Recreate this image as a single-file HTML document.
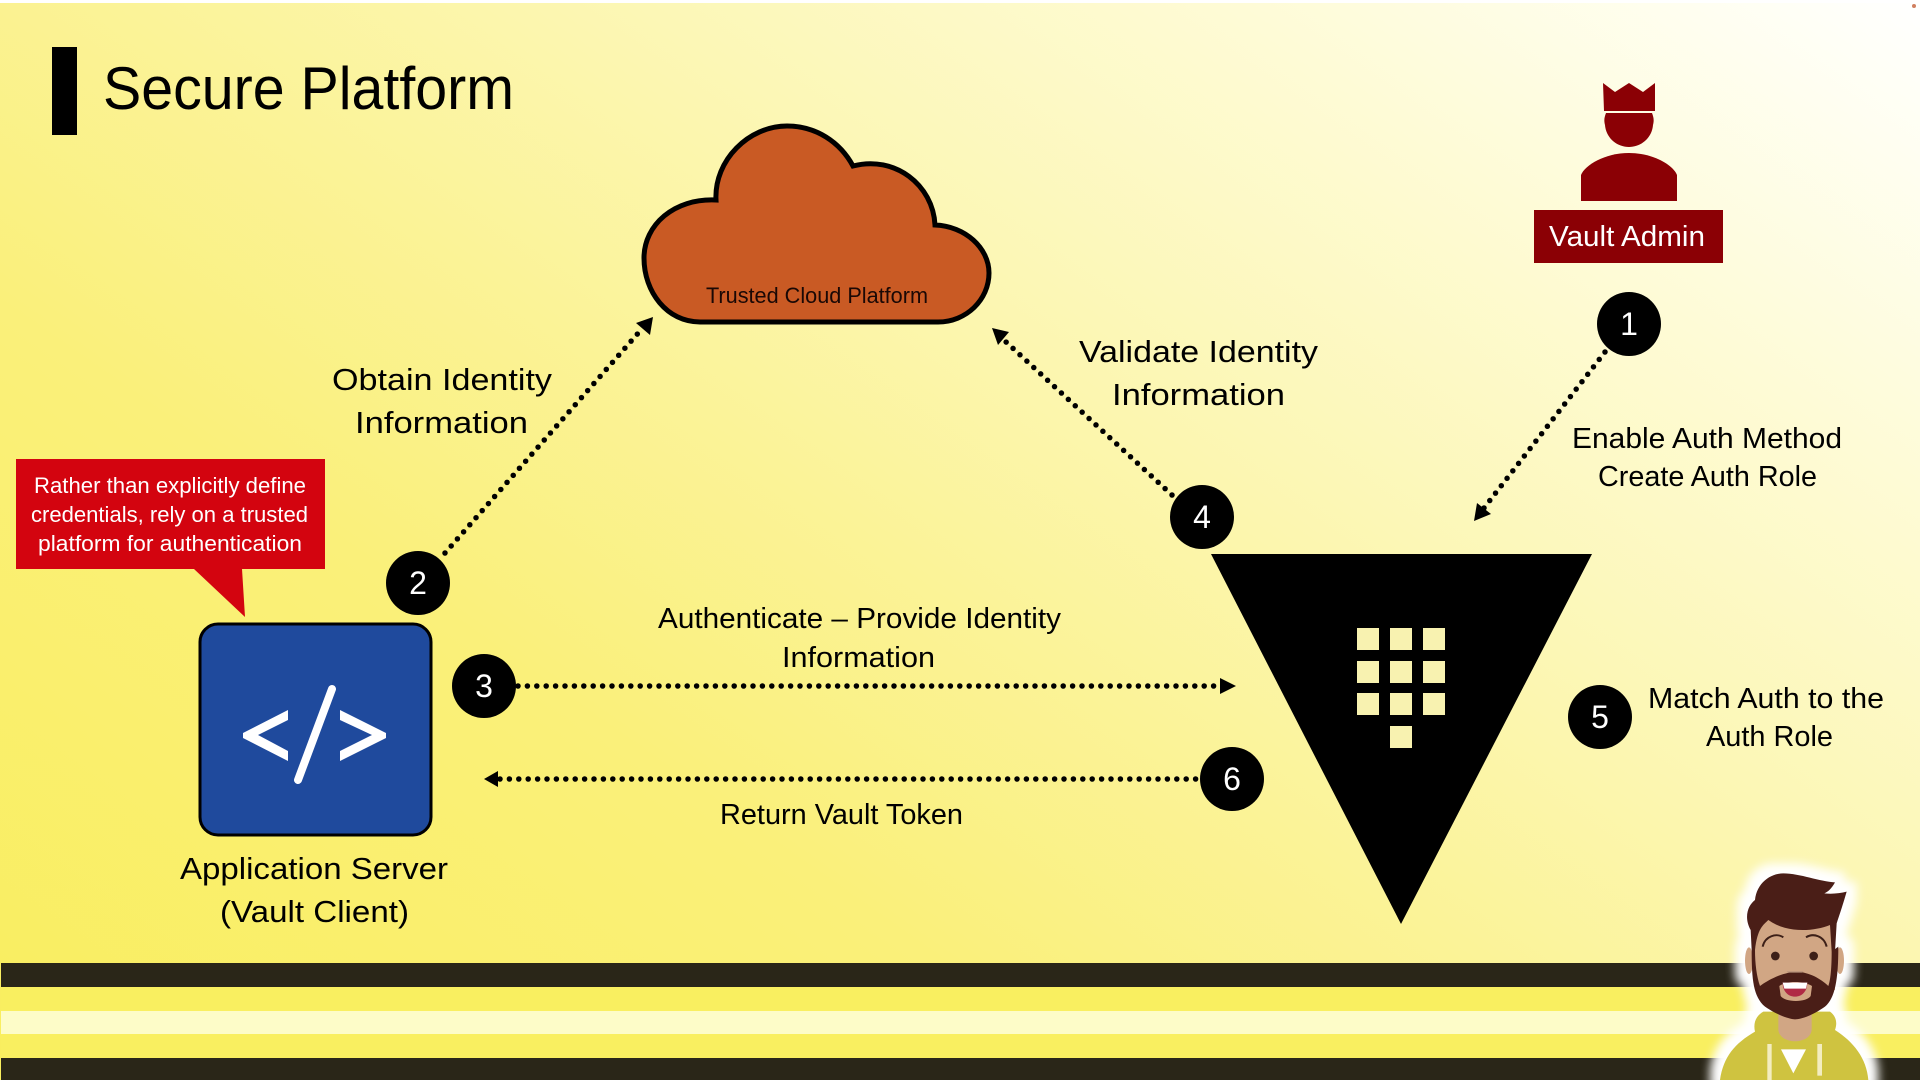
<!DOCTYPE html>
<html><head><meta charset="utf-8"><title>Secure Platform</title>
<style>
html,body{margin:0;padding:0;width:1920px;height:1080px;overflow:hidden;background:#fff}
svg{display:block;position:absolute;left:0;top:0}
.bg{position:absolute;left:0;top:3px;width:1920px;height:1077px;background:linear-gradient(35deg,#f9ee5e 0%,#faf07a 32%,#fbf398 48%,#fcf7b6 63%,#fefbd6 80%,#fffff6 96%,#fff 100%)}
text{font-family:"Liberation Sans",sans-serif;fill:#000}
.n{fill:#fff;font-size:32px;text-anchor:middle}
.l{font-size:29px}
.b{font-size:31px}
.c{fill:#fff;font-size:22px}
</style></head><body>
<div class="bg"></div>
<svg width="1920" height="1080" viewBox="0 0 1920 1080" xmlns="http://www.w3.org/2000/svg">
<defs>
<filter id="halo" filterUnits="userSpaceOnUse" x="-120" y="-60" width="960" height="820" color-interpolation-filters="sRGB">
<feMorphology in="SourceAlpha" operator="dilate" radius="30" result="d"/>
<feGaussianBlur in="d" stdDeviation="14" result="b"/>
<feFlood flood-color="#ffffff" result="f"/>
<feComposite in="f" in2="b" operator="in" result="g"/>
<feMerge><feMergeNode in="g"/><feMergeNode in="SourceGraphic"/></feMerge>
</filter>
</defs>
<!-- bands -->
<rect x="1" y="963" width="1919" height="24" fill="#2a2618"/>
<rect x="1" y="987" width="1919" height="24" fill="#f9ef60"/>
<rect x="1" y="1011" width="1919" height="23" fill="#fdfcc8"/>
<rect x="1" y="1034" width="1919" height="24" fill="#f9ef60"/>
<rect x="1" y="1058" width="1919" height="22" fill="#2a2618"/>
<circle cx="1914" cy="6" r="2" fill="#d08060"/>

<!-- title -->
<rect x="52" y="47" width="25" height="88" fill="#000"/>
<text x="103" y="109" font-size="60" textLength="411" lengthAdjust="spacingAndGlyphs">Secure Platform</text>

<!-- cloud -->
<path d="M716,200 C714,160 749,126 787,126 C816,126 840,142 853,166 C895,155 933,185 935,225 C965,226 989,248 989,273 C989,300 966,322 938,322 L700,322 C667,322 644,292 644,258 C644,225 674,198 716,200 Z" fill="#c95a24" stroke="#000" stroke-width="5"/>
<text x="706" y="303" font-size="22" textLength="222" lengthAdjust="spacingAndGlyphs" style="fill:#1a0805">Trusted Cloud Platform</text>

<!-- dotted connectors -->
<g fill="none" stroke="#000" stroke-width="5.5" stroke-linecap="round" stroke-dasharray="0 9.4">
<path d="M445,553 L640,331"/>
<path d="M1172,495 L1005,341"/>
<path d="M1605,352 L1484,508"/>
<path d="M518,686 L1218,686"/>
<path d="M1205,779 L500,779"/>
</g>
<g fill="#000">
<polygon points="653,317 650,335 636,323"/>
<polygon points="992,328 1009,332 998,345"/>
<polygon points="1474,521 1491,514 1477,503"/>
<polygon points="1236,686 1220,678 1220,694"/>
<polygon points="484,779 498,771 498,787"/>
</g>

<!-- callout -->
<path d="M16,459 H325 V569 H242 L245,617 L194,569 H16 Z" fill="#d3040f"/>
<text class="c" x="34" y="493" textLength="272" lengthAdjust="spacingAndGlyphs">Rather than explicitly define</text>
<text class="c" x="31" y="522" textLength="277" lengthAdjust="spacingAndGlyphs">credentials, rely on a trusted</text>
<text class="c" x="38" y="551" textLength="264" lengthAdjust="spacingAndGlyphs">platform for authentication</text>

<!-- app box -->
<rect x="200" y="624" width="231" height="211" rx="18" ry="18" fill="#1f4a9d" stroke="#000" stroke-width="3"/>
<g fill="#fff">
<polygon points="288,710 288,720 258,735 288,751 288,761 243,738 243,733"/>
<polygon points="340,710 340,720 372,735 340,751 340,761 386,738 386,733"/>
</g>
<path d="M332,689 L298,780" stroke="#fff" stroke-width="8" stroke-linecap="round"/>

<!-- vault -->
<polygon points="1211,554 1592,554 1401,924" fill="#000"/>
<g fill="#f8f2b0">
<rect x="1357" y="628" width="22" height="22"/><rect x="1390" y="628" width="22" height="22"/><rect x="1423" y="628" width="22" height="22"/>
<rect x="1357" y="661" width="22" height="22"/><rect x="1390" y="661" width="22" height="22"/><rect x="1423" y="661" width="22" height="22"/>
<rect x="1357" y="693" width="22" height="22"/><rect x="1390" y="693" width="22" height="22"/><rect x="1423" y="693" width="22" height="22"/>
<rect x="1390" y="726" width="22" height="22"/>
</g>

<!-- admin -->
<g fill="#8b0005">
<polygon points="1603,83 1615,92 1629,83 1643,92 1655,83 1655,111 1604,111"/>
<path d="M1606,113 H1652 C1654,118 1654,121 1653,125 C1652,138 1641,147 1629,147 C1617,147 1606,138 1605,125 C1604,121 1604,118 1606,113 Z"/>
<path d="M1581,201 V175 C1585,165 1605,153 1629,153 C1653,153 1673,165 1677,175 V201 Z"/>
<rect x="1534" y="210" width="189" height="53"/>
</g>
<text x="1549" y="246" font-size="29" textLength="156" lengthAdjust="spacingAndGlyphs" style="fill:#fff">Vault Admin</text>

<!-- number circles -->
<g fill="#000">
<circle cx="1629" cy="324" r="32"/><circle cx="418" cy="583" r="32"/><circle cx="484" cy="686" r="32"/>
<circle cx="1202" cy="517" r="32"/><circle cx="1600" cy="717" r="32"/><circle cx="1232" cy="779" r="32"/>
</g>
<text class="n" x="1629" y="335">1</text>
<text class="n" x="418" y="594">2</text>
<text class="n" x="484" y="697">3</text>
<text class="n" x="1202" y="528">4</text>
<text class="n" x="1600" y="728">5</text>
<text class="n" x="1232" y="790">6</text>

<!-- labels -->
<text class="b" x="332" y="390" textLength="220" lengthAdjust="spacingAndGlyphs">Obtain Identity</text>
<text class="b" x="355" y="433" textLength="173" lengthAdjust="spacingAndGlyphs">Information</text>
<text class="b" x="1079" y="362" textLength="239" lengthAdjust="spacingAndGlyphs">Validate Identity</text>
<text class="b" x="1112" y="405" textLength="173" lengthAdjust="spacingAndGlyphs">Information</text>
<text class="l" x="1572" y="448" textLength="270" lengthAdjust="spacingAndGlyphs">Enable Auth Method</text>
<text class="l" x="1598" y="486" textLength="219" lengthAdjust="spacingAndGlyphs">Create Auth Role</text>
<text class="l" x="658" y="628" textLength="403" lengthAdjust="spacingAndGlyphs">Authenticate – Provide Identity</text>
<text class="l" x="782" y="667" textLength="153" lengthAdjust="spacingAndGlyphs">Information</text>
<text class="l" x="720" y="824" textLength="243" lengthAdjust="spacingAndGlyphs">Return Vault Token</text>
<text class="l" x="1648" y="708" textLength="236" lengthAdjust="spacingAndGlyphs">Match Auth to the</text>
<text class="l" x="1706" y="746" textLength="127" lengthAdjust="spacingAndGlyphs">Auth Role</text>
<text class="b" x="180" y="879" textLength="268" lengthAdjust="spacingAndGlyphs">Application Server</text>
<text class="b" x="220" y="922" textLength="189" lengthAdjust="spacingAndGlyphs">(Vault Client)</text>

<!-- presenter -->
<g transform="translate(1680,850) scale(.33333)" filter="url(#halo)">
<path d="M120,690 C130,620 165,580 225,545 C218,515 232,495 250,485 L450,485 C470,500 472,520 465,540 C520,575 560,625 565,690 Z" fill="#cfc340"/>
<path d="M295,480 L295,540 C300,585 390,585 395,540 L395,480 Z" fill="#d1a684"/>
<ellipse cx="207" cy="332" rx="12" ry="40" fill="#d1a684"/>
<ellipse cx="480" cy="332" rx="12" ry="40" fill="#d1a684"/>
<path d="M225,200 H465 V420 H225 Z" fill="#d1a684"/>
<path d="M215,300 C215,390 220,440 255,470 C290,495 330,508 345,508 C365,508 400,495 435,470 C465,445 475,390 475,290 L455,305 C455,350 452,390 445,408 C420,385 390,368 350,365 C305,368 265,390 240,408 C230,380 225,340 225,300 Z" fill="#4a1e17"/>
<path d="M298,408 C320,392 370,392 396,408 L392,438 C380,458 315,458 302,438 Z" fill="#d1a684"/>
<path d="M308,398 H382 C382,425 365,440 345,440 C325,440 308,425 308,398 Z" fill="#b02a45"/>
<path d="M308,398 H382 L378,416 H313 Z" fill="#fff"/>
<path d="M320,364 H370 L366,368 H324 Z" fill="#b5917a"/>
<path d="M212,240 C190,200 205,165 225,150 C230,100 270,70 310,70 C360,70 420,95 465,97 C455,115 445,125 433,130 C455,133 480,130 500,125 C490,160 480,190 470,220 L465,305 L455,305 L450,225 C400,245 320,250 265,210 C250,225 232,235 225,300 L215,300 Z" fill="#4a1e17"/>
<circle cx="286" cy="318" r="13" fill="#3d2018"/>
<circle cx="401" cy="318" r="13" fill="#3d2018"/>
<path d="M248,290 C255,258 290,248 310,262" fill="none" stroke="#3d2018" stroke-width="6"/>
<path d="M378,262 C400,248 432,258 440,290" fill="none" stroke="#3d2018" stroke-width="6"/>
<rect x="262" y="582" width="13" height="108" fill="#f3edc0"/>
<rect x="412" y="582" width="14" height="95" fill="#f3edc0"/>
<polygon points="303,598 378,598 340,670" fill="#fff"/>
</g>
</svg>
</body></html>
